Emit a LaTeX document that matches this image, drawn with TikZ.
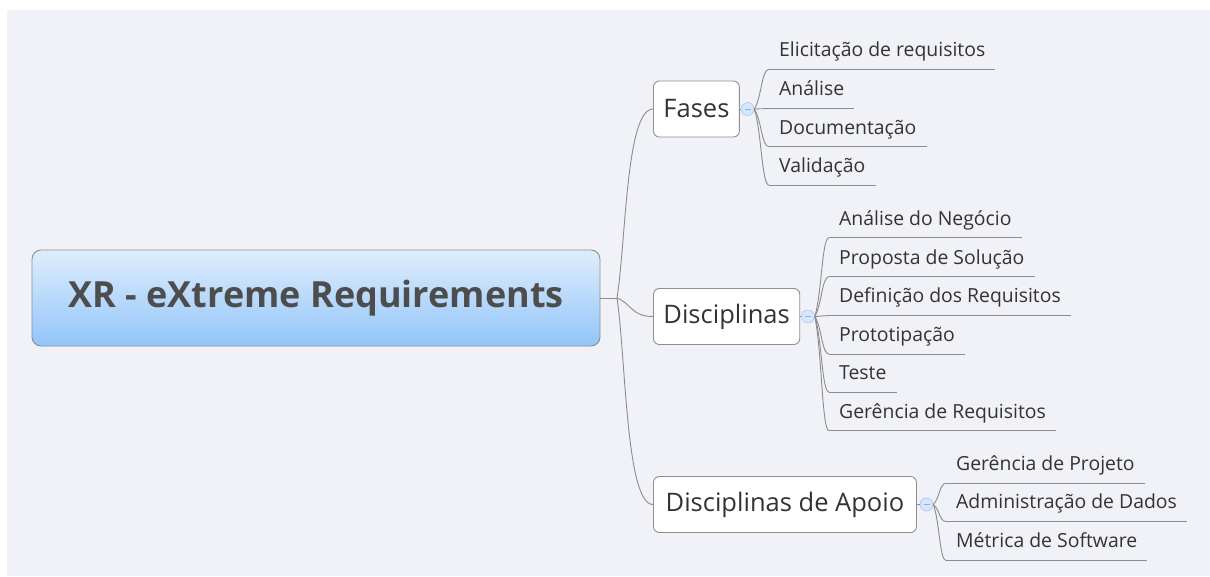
\documentclass[tikz,border=0pt]{standalone}
\usepackage{fontspec}
\setmainfont{Open Sans}
\usetikzlibrary{calc}
\definecolor{bgc}{HTML}{F1F2F8}
\definecolor{linec}{HTML}{8C8C8C}
\definecolor{boxc}{HTML}{8F8F8F}
\definecolor{txtc}{HTML}{333333}
\definecolor{roottxt}{HTML}{4D4D4D}
\definecolor{gradtop}{HTML}{DEEDFD}
\definecolor{gradbot}{HTML}{93C5F9}
\definecolor{circfill}{HTML}{D6E6FB}
\definecolor{circline}{HTML}{A9C7EE}
\definecolor{minusc}{HTML}{8FAFDC}
\tikzset{
  rootbox/.style={draw=boxc, line width=0.9pt, rounded corners=9pt, top color=gradtop, bottom color=gradbot,
    minimum width=568pt, minimum height=96pt, font=\fontsize{36}{38}\selectfont\bfseries, text=roottxt},
  topicbox/.style={draw=boxc, line width=0.9pt, rounded corners=6pt, fill=white, anchor=west,
    minimum height=56pt, inner xsep=10pt, font=\fontsize{25.5}{27}\selectfont, text=txtc},
  leaf/.style={anchor=south west, inner xsep=10pt, inner ysep=8.5pt, text height=14pt, text depth=4pt,
    font=\fontsize{19.4}{21}\selectfont, text=txtc},
  collapse/.style={circle, draw=circline, fill=circfill, line width=0.6pt, minimum size=13pt, inner sep=0pt,
    path picture={\draw[minusc, line width=0.8pt] ([xshift=-3pt]path picture bounding box.center) -- ([xshift=3pt]path picture bounding box.center);}},
  edge/.style={draw=linec, line width=0.9pt},
  uline/.style={draw=linec, line width=0.9pt},
}
% bracket-shaped curve from #1 to #2 with horizontal fraction #3
\newcommand{\brk}[3]{\draw[edge] let \p1=(#1), \p2=(#2) in (\p1) .. controls ({\x1+#3*(\x2-\x1)},{\y1+0.3*(\y2-\y1)}) and ({\x1+#3*(\x2-\x1)},\y2) .. (\p2);}
\begin{document}
\begin{tikzpicture}[x=1pt,y=-1pt]
\useasboundingbox (0,0) rectangle (1210,576);
\fill[white] (0,0) rectangle (1210,576);
\fill[bgc] (7,10) rectangle (1210,576);

% root
\node[rootbox] (root) at (316,298) {XR - eXtreme Requirements};
\coordinate (j) at (617,298);
\draw[edge] (root.east) -- (j);

% main topics
\node[topicbox] (fases) at (653,109) {Fases};
\node[topicbox] (disc) at (653,316.5) {Disciplinas};
\node[topicbox, minimum width=263pt] (apoio) at (653,504.5) {Disciplinas de Apoio};

\brk{j}{fases.west}{0.25}
\brk{j}{disc.west}{0.4}
\brk{j}{apoio.west}{0.25}

% collapse markers
\node[collapse] (c1) at (747.5,109) {};
\node[collapse] (c2) at (808,316.5) {};
\node[collapse] (c3) at (926.5,504.5) {};
\draw[edge] (fases.east) -- (c1.west);
\draw[edge] (disc.east) -- (c2.west);
\draw[edge] (apoio.east) -- (c3.west);

% Fases children
\node[leaf] (f1) at (769,69.3) {Elicitação de requisitos};
\node[leaf] (f2) at (769,108.5) {Análise};
\node[leaf] (f3) at (769,146.7) {Documentação};
\node[leaf] (f4) at (769,185) {Validação};
\foreach \k in {f1,f2,f3,f4} {\draw[uline] (\k.south west) -- (\k.south east); \brk{c1.east}{\k.south west}{0.5}}

% Disciplinas children
\node[leaf] (d1) at (829,237.7) {Análise do Negócio};
\node[leaf] (d2) at (829,276.7) {Proposta de Solução};
\node[leaf] (d3) at (829,315.5) {Definição dos Requisitos};
\node[leaf] (d4) at (829,354) {Prototipação};
\node[leaf] (d5) at (829,392) {Teste};
\node[leaf] (d6) at (829,430.7) {Gerência de Requisitos};
\foreach \k in {d1,d2,d3,d4,d5,d6} {\draw[uline] (\k.south west) -- (\k.south east); \brk{c2.east}{\k.south west}{0.5}}

% Apoio children
\node[leaf] (a1) at (946,483.3) {Gerência de Projeto};
\node[leaf] (a2) at (946,521.5) {Administração de Dados};
\node[leaf] (a3) at (946,560.5) {Métrica de Software};
\foreach \k in {a1,a2,a3} {\draw[uline] (\k.south west) -- (\k.south east); \brk{c3.east}{\k.south west}{0.5}}
\end{tikzpicture}
\end{document}
